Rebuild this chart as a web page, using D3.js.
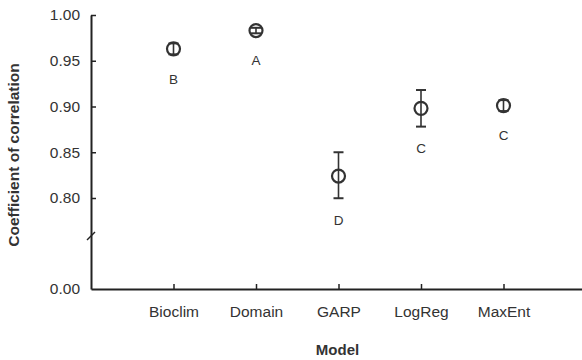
<!DOCTYPE html>
<html>
<head>
<meta charset="utf-8">
<script src="https://cdn.jsdelivr.net/npm/d3@7"></script>
<style>
  body { margin: 0; background: #fff; }
  text { font-family: Arial, "Liberation Sans", sans-serif; fill: #333; }
</style>
</head>
<body>
<div id="chart"></div>
<script>
// model results
const models = ["Bioclim", "Domain", "GARP", "LogReg", "MaxEnt"];
const means = [0.963, 0.983, 0.824, 0.898, 0.901];
const errs = [0.006, 0.003, 0.026, 0.020, 0.006];
const groups = ["B", "A", "D", "C", "C"];
const yTicks = [0.00, 0.80, 0.85, 0.90, 0.95, 1.00];

const width = 582, height = 360;
const margin = {top: 15, right: 0, bottom: 71, left: 91};

const svg = d3.select("#chart")
  .append("svg")
  .attr("width", width)
  .attr("height", height);

// x as points
const x = d3.scalePoint()
  .domain(models)
  .range([margin.left, width + 4])
  .padding(1);

// broken y axis: 0 at bottom, then 0.80 - 1.00
const y = d3.scaleLinear()
  .domain([0, 0.8, 1.0])
  .range([height - margin.bottom, 198, margin.top]);

const axisColor = "#222";

// Y axis
const yAxis = svg.append("g")
  .attr("transform", "translate(" + margin.left + ",0)")
  .call(d3.axisLeft(y).tickValues(yTicks).tickFormat(d3.format(".2f"))
    .tickSizeInner(-5).tickSizeOuter(0).tickPadding(11));
yAxis.select(".domain").attr("stroke", axisColor).attr("stroke-width", 2);
yAxis.selectAll(".tick line").attr("stroke", axisColor).attr("stroke-width", 1.5);
yAxis.selectAll(".tick text")
  .style("font-size", "15.5px").attr("fill", "#333");
yAxis.selectAll(".tick").filter(d => d === 0).select("line").remove();

// axis break mark
const yb = y(0.8) + 38;
svg.append("line")
  .attr("x1", margin.left - 4).attr("y1", yb + 4)
  .attr("x2", margin.left + 4).attr("y2", yb - 4)
  .attr("stroke", axisColor).attr("stroke-width", 1.5);

// X axis
const xAxis = svg.append("g")
  .attr("transform", "translate(0," + y(0) + ")")
  .call(d3.axisBottom(x).tickSizeInner(-5).tickSizeOuter(0).tickPadding(17));
xAxis.select(".domain").attr("stroke", axisColor).attr("stroke-width", 2);
xAxis.selectAll(".tick line").attr("stroke", axisColor).attr("stroke-width", 1.5);
xAxis.selectAll(".tick text")
  .style("font-size", "15.5px").attr("fill", "#333");

// axis titles
svg.append("text")
  .attr("x", (margin.left + width) / 2 + 1)
  .attr("y", 355)
  .attr("text-anchor", "middle")
  .style("font-size", "15px")
  .style("font-weight", "bold")
  .text("Model");

svg.append("text")
  .attr("transform", "translate(19,155) rotate(-90)")
  .attr("text-anchor", "middle")
  .style("font-size", "15.5px")
  .style("font-weight", "bold")
  .text("Coefficient of correlation");

// points with error bars
const pts = svg.selectAll(".pt")
  .data(models.map((m, i) => ({m: m, mean: means[i], err: errs[i], g: groups[i]})))
  .enter()
  .append("g")
  .attr("class", "pt");

const capW = 5;
const stroke = "#333";

pts.append("circle")
  .attr("cx", d => x(d.m))
  .attr("cy", d => y(d.mean))
  .attr("r", 6.5)
  .attr("fill", "none")
  .attr("stroke", stroke)
  .attr("stroke-width", 2.2);

pts.append("line")
  .attr("x1", d => x(d.m)).attr("x2", d => x(d.m))
  .attr("y1", d => y(d.mean + d.err))
  .attr("y2", d => y(d.mean - d.err))
  .attr("stroke", stroke).attr("stroke-width", 1.6);

pts.append("line")
  .attr("x1", d => x(d.m) - capW).attr("x2", d => x(d.m) + capW)
  .attr("y1", d => y(d.mean + d.err)).attr("y2", d => y(d.mean + d.err))
  .attr("stroke", stroke).attr("stroke-width", 2);

pts.append("line")
  .attr("x1", d => x(d.m) - capW).attr("x2", d => x(d.m) + capW)
  .attr("y1", d => y(d.mean - d.err)).attr("y2", d => y(d.mean - d.err))
  .attr("stroke", stroke).attr("stroke-width", 2);

// group letters
pts.append("text")
  .attr("x", d => x(d.m))
  .attr("y", d => Math.max(y(d.mean - d.err) + 22, y(d.mean) + 30))
  .attr("dy", "0.35em")
  .attr("text-anchor", "middle")
  .style("font-size", "13.5px")
  .text(d => d.g);
</script>
</body>
</html>
